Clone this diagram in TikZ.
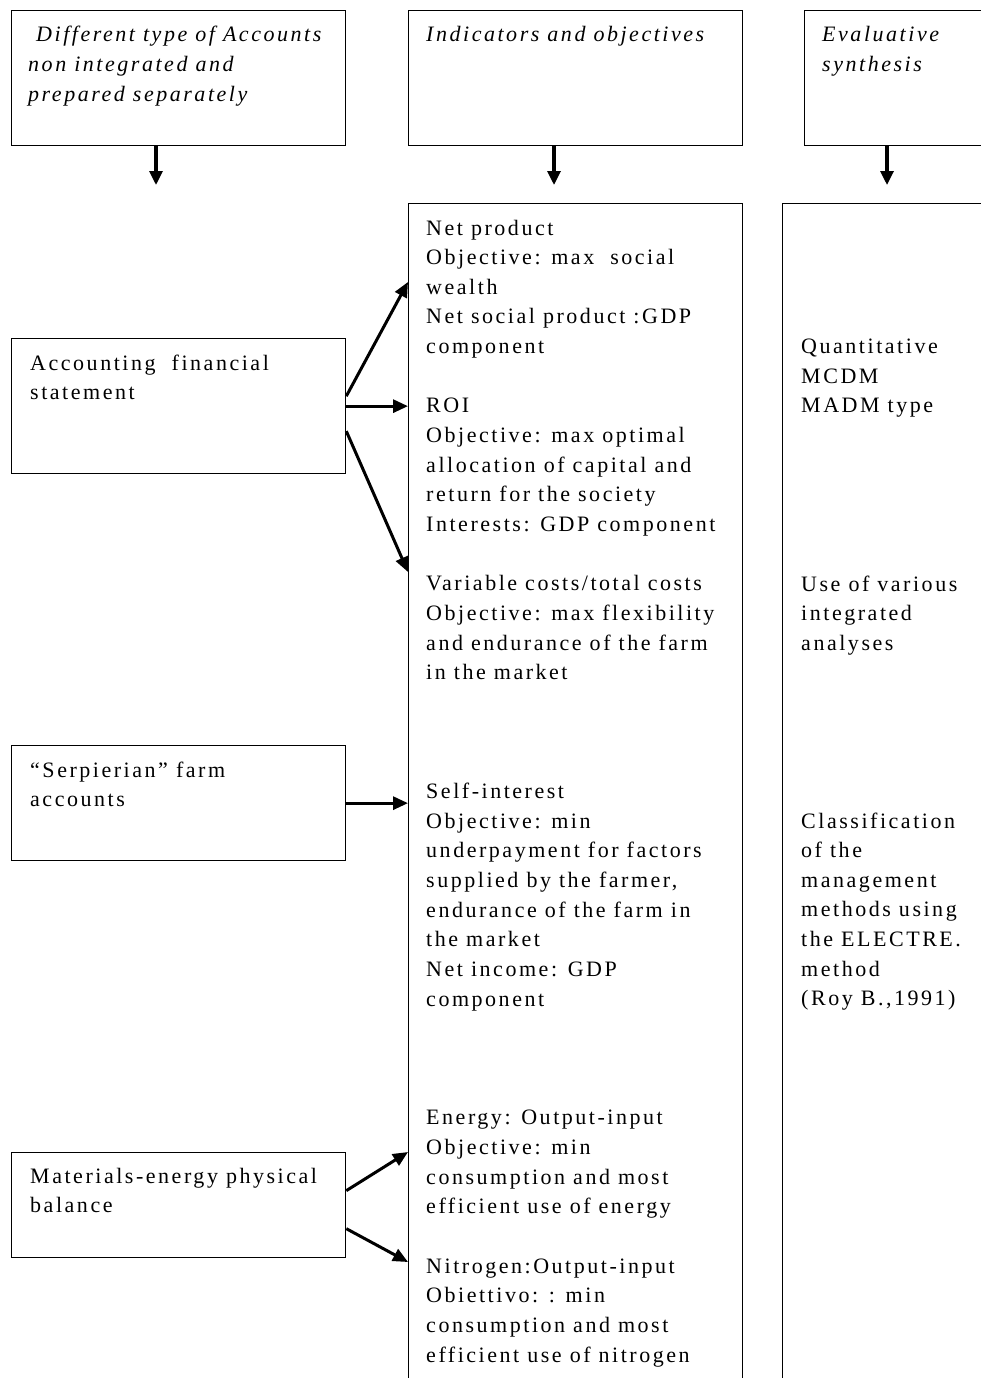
\documentclass[tikz,border=0pt]{standalone}
\usepackage{fontspec}
\setmainfont{Liberation Serif}[LetterSpace=11.5]
\usetikzlibrary{arrows.meta}
\newcommand\colbox[1]{\begin{tabular}[t]{@{}l@{}}#1\end{tabular}}
\tikzset{
  box/.style={draw, line width=1.3pt, inner sep=0pt, anchor=north west},
  txt/.style={anchor=base west, inner sep=0pt, font=\fontsize{22}{29.66}\selectfont},
  htxt/.style={txt, font=\fontsize{22}{29.66}\selectfont\itshape},
  arr/.style={line width=3pt, -{Triangle[length=15pt,width=13pt]}},
  harr/.style={line width=3.2pt, -{Triangle[length=14pt,width=13pt]}}
}
\begin{document}
\begin{tikzpicture}[x=1pt,y=-1pt]
\useasboundingbox (0,0) rectangle (980,1378);
% header boxes
\node[box, minimum width=334, minimum height=135] (h1) at (11,10) {};
\node[box, minimum width=334, minimum height=135] (h2) at (408,10) {};
\node[box, minimum width=216, minimum height=135] (h3) at (804,10) {};
% left boxes
\node[box, minimum width=334, minimum height=135] (a1) at (11,338) {};
\node[box, minimum width=334, minimum height=115] (a2) at (11,745) {};
\node[box, minimum width=334, minimum height=105] (a3) at (11,1152) {};
% column boxes (open at the bottom / right, beyond the page)
\node[box, minimum width=334, minimum height=1230] (mid) at (408,203) {};
\node[box, minimum width=240, minimum height=1230] (rt) at (782,203) {};

% header texts
\node[htxt] (t1) at (28,42) {\colbox{\hspace{8pt}Different type of Accounts\\ non integrated and\\ prepared separately}};
\node[htxt] (t2) at (426,42) {\colbox{Indicators and objectives}};
\node[htxt] (t3) at (822,42) {\colbox{Evaluative\\ synthesis}};

% left texts
\node[txt] (ta1) at (30,370) {\colbox{Accounting~ financial\\ statement}};
\node[txt] (ta2) at (30,777) {\colbox{“Serpierian” farm\\ accounts}};
\node[txt] (ta3) at (30,1183) {\colbox{Materials-energy physical\\ balance}};

% middle column
\node[txt] (tm) at (426,235) {\colbox{Net product\\
Objective: max~ social\\
wealth\\
Net social product :GDP\\
component\\
\\
ROI\\
Objective: max optimal\\
allocation of capital and\\
return for the society\\
Interests: GDP component\\
\\
Variable costs/total costs\\
Objective: max flexibility\\
and endurance of the farm\\
in the market\\
\\ \\ \\
Self-interest\\
Objective: min\\
underpayment for factors\\
supplied by the farmer,\\
endurance of the farm in\\
the market\\
Net income: GDP\\
component\\
\\ \\ \\
Energy: Output-input\\
Objective: min\\
consumption and most\\
efficient use of energy\\
\\
Nitrogen:Output-input\\
Obiettivo: : min\\
consumption and most\\
efficient use of nitrogen}};

% right column
\node[txt] (r1) at (801,353.6) {\colbox{Quantitative\\ MCDM\\ MADM type}};
\node[txt] (r2) at (801,591) {\colbox{Use of various\\ integrated\\ analyses}};
\node[txt] (r3) at (801,828) {\colbox{Classification\\ of the\\ management\\ methods using\\ the ELECTRE.\\ method\\ (Roy B.,1991)}};

% header arrows
\coordinate (e1) at (156,185);
\coordinate (e2) at (554,185);
\coordinate (e3) at (887,185);
\draw[harr] (h1.south -| e1) -- (e1);
\draw[harr] (h2.south -| e2) -- (e2);
\draw[harr] (h3.south -| e3) -- (e3);

% side arrows
\coordinate (m1) at (408,282);
\coordinate (m3) at (408,572);
\coordinate (m5) at (408,1152);
\coordinate (m6) at (408,1262);
\draw[arr] ([yshift=10pt]a1.east) -- (m1);
\draw[arr] (a1.east) -- (a1.east -| mid.west);
\draw[arr] ([yshift=-25pt]a1.east) -- (m3);
\draw[arr] (a2.east) -- (a2.east -| mid.west);
\draw[arr] ([yshift=14.5pt]a3.east) -- (m5);
\draw[arr] ([yshift=-23.5pt]a3.east) -- (m6);
\end{tikzpicture}
\end{document}
